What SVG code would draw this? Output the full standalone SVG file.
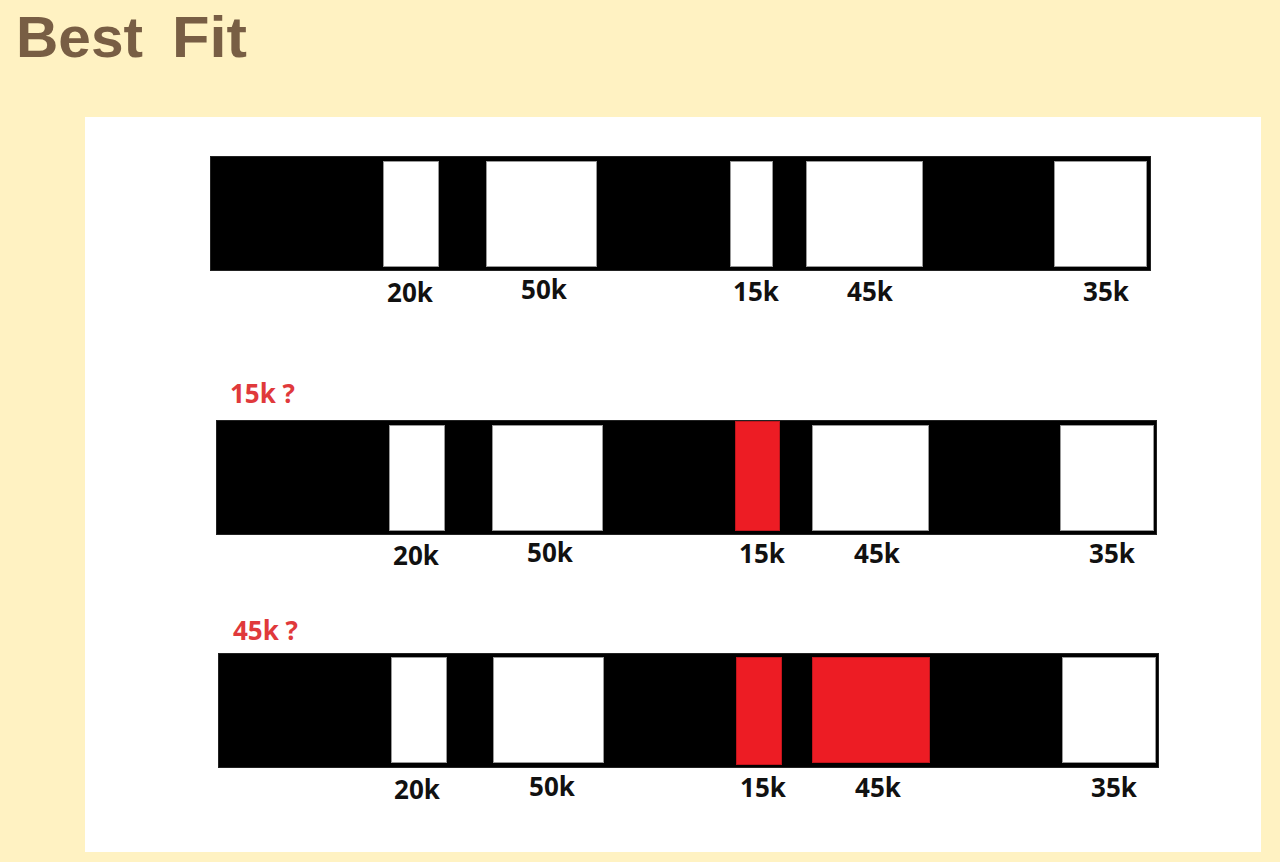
<svg xmlns="http://www.w3.org/2000/svg" width="1280" height="862" viewBox="0 0 1280 862">
<style>
.bar{fill:#000;stroke:#222;stroke-width:1}
.free{fill:#fff;stroke:#999;stroke-width:1}
.used{fill:#ED1C24;stroke:#c0151c;stroke-width:1}
.lbl{font-family:"Open Sans","Liberation Sans",sans-serif;font-weight:bold;font-size:26px;fill:#111;text-anchor:middle}
.q{font-family:"Open Sans","Liberation Sans",sans-serif;font-weight:bold;font-size:26px;fill:#E0393B}
.title{font-family:"Liberation Sans",Arial,sans-serif;font-weight:bold;font-size:58px;fill:#785E44}
</style>
<rect x="0" y="0" width="1280" height="862" fill="#FFF2C2"/>
<text class="title" y="57"><tspan x="16" textLength="127" lengthAdjust="spacingAndGlyphs">Best</tspan> <tspan x="172" textLength="75" lengthAdjust="spacingAndGlyphs">Fit</tspan></text>
<rect x="85" y="117" width="1176" height="735" fill="#fff"/>

<g id="memory-initial">
<rect class="bar" x="210.5" y="156.5" width="940" height="114"/>
<rect class="free" x="383.5" y="161.5" width="55" height="105"/>
<rect class="free" x="486.5" y="161.5" width="110" height="105"/>
<rect class="free" x="730.5" y="161.5" width="42" height="105"/>
<rect class="free" x="806.5" y="161.5" width="116" height="105"/>
<rect class="free" x="1054.5" y="161.5" width="92" height="105"/>
<text class="lbl" x="410" y="302">20k</text>
<text class="lbl" x="544" y="299">50k</text>
<text class="lbl" x="756" y="301">15k</text>
<text class="lbl" x="870" y="301">45k</text>
<text class="lbl" x="1106" y="301">35k</text>
</g>

<g id="memory-15k">
<text class="q" x="230" y="403">15k ?</text>
<rect class="bar" x="216.5" y="420.5" width="940" height="114"/>
<rect class="free" x="389.5" y="425.5" width="55" height="105"/>
<rect class="free" x="492.5" y="425.5" width="110" height="105"/>
<rect class="used" x="735.5" y="421.5" width="44" height="109"/>
<rect class="free" x="812.5" y="425.5" width="116" height="105"/>
<rect class="free" x="1060.5" y="425.5" width="93" height="105"/>
<text class="lbl" x="416" y="565">20k</text>
<text class="lbl" x="550" y="562">50k</text>
<text class="lbl" x="762" y="563">15k</text>
<text class="lbl" x="877" y="563">45k</text>
<text class="lbl" x="1112" y="563">35k</text>
</g>

<g id="memory-45k">
<text class="q" x="233" y="640">45k ?</text>
<rect class="bar" x="218.5" y="653.5" width="940" height="114"/>
<rect class="free" x="391.5" y="657.5" width="55" height="105"/>
<rect class="free" x="493.5" y="657.5" width="110" height="105"/>
<rect class="used" x="736.5" y="657.5" width="45" height="107"/>
<rect class="used" x="812.5" y="657.5" width="117" height="105"/>
<rect class="free" x="1062.5" y="657.5" width="93" height="105"/>
<text class="lbl" x="417" y="799">20k</text>
<text class="lbl" x="552" y="796">50k</text>
<text class="lbl" x="763" y="797">15k</text>
<text class="lbl" x="878" y="797">45k</text>
<text class="lbl" x="1114" y="797">35k</text>
</g>
</svg>
